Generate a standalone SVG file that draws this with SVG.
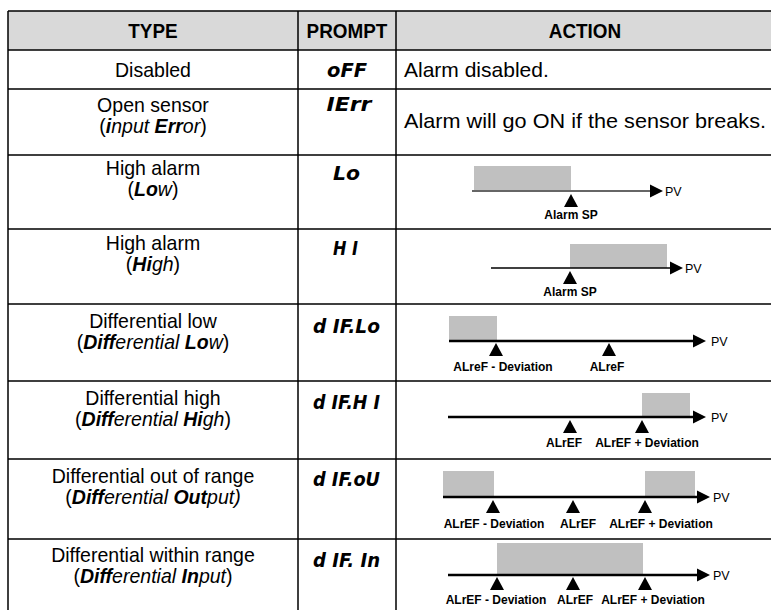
<svg xmlns="http://www.w3.org/2000/svg" width="771" height="610" viewBox="0 0 771 610">
<style>
.t{font-family:"Liberation Sans",Arial,sans-serif;font-size:21px;fill:#000;text-anchor:middle}
.h{font-family:"Liberation Sans",Arial,sans-serif;font-size:21px;font-weight:bold;fill:#000;text-anchor:middle}
.bi{font-weight:bold;font-style:italic}
.i{font-style:italic}
.p{font-family:"DejaVu Sans",sans-serif;font-size:19px;font-weight:bold;font-style:oblique;text-anchor:middle;fill:#000}
.a{font-family:"Liberation Sans",Arial,sans-serif;font-size:21px;fill:#000}
.lb{font-family:"Liberation Sans",Arial,sans-serif;font-size:12px;font-weight:bold;text-anchor:middle;fill:#000}
.pv{font-family:"Liberation Sans",Arial,sans-serif;font-size:12.5px;fill:#000}
.bar{fill:#c0c0c0}
.ax{stroke:#000;stroke-width:2.5;fill:none}
.grid{stroke:#000;stroke-width:1.5;fill:none}
</style>
<defs>
<path id="tri" d="M0,0 L7,13 L-7,13 Z" fill="#000"/>
<path id="head" d="M-13,-6.5 L0,0 L-13,6.5 Z" fill="#000"/>
</defs>
<rect x="8" y="11" width="763" height="39" fill="#d9d9d9"/>
<g id="grid" class="grid">
<path d="M8,11H771M8,50H771M8,89H771M8,155H771M8,229H771M8,304H771M8,381H771M8,459H771M8,539H771"/>
<path d="M8,11V610M298,11V610M396,11V610"/>
</g>
<g id="header">
<text class="h" x="153" y="38" transform="matrix(0.9 0 0 1 15.3 0)">TYPE</text>
<text class="h" x="347" y="38" transform="matrix(0.9 0 0 1 34.7 0)">PROMPT</text>
<text class="h" x="585" y="38" transform="matrix(0.9 0 0 1 58.5 0)">ACTION</text>
</g>
<g id="type-column" transform="matrix(0.93 0 0 1 10.71 0)">
<g id="row-disabled-type"><text class="t" x="153" y="77">Disabled</text></g>
<g id="row-open-type">
<text class="t" x="153" y="112">Open sensor</text>
<text class="t" x="153" y="133">(<tspan class="bi">i</tspan><tspan class="i">nput </tspan><tspan class="bi">Err</tspan><tspan class="i">or</tspan>)</text>
</g>
<g id="row-low-type">
<text class="t" x="153" y="175">High alarm</text>
<text class="t" x="153" y="196">(<tspan class="bi">Lo</tspan><tspan class="i">w</tspan>)</text>
</g>
<g id="row-high-type">
<text class="t" x="153" y="250">High alarm</text>
<text class="t" x="153" y="271">(<tspan class="bi">Hi</tspan><tspan class="i">gh</tspan>)</text>
</g>
<g id="row-diflo-type">
<text class="t" x="153" y="328">Differential low</text>
<text class="t" x="153" y="349">(<tspan class="bi">Diff</tspan><tspan class="i">erential </tspan><tspan class="bi">Lo</tspan><tspan class="i">w</tspan>)</text>
</g>
<g id="row-difhi-type">
<text class="t" x="153" y="405">Differential high</text>
<text class="t" x="153" y="426">(<tspan class="bi">Diff</tspan><tspan class="i">erential </tspan><tspan class="bi">Hi</tspan><tspan class="i">gh</tspan>)</text>
</g>
<g id="row-difou-type">
<text class="t" x="153" y="483">Differential out of range</text>
<text class="t" x="153" y="504">(<tspan class="bi">Diff</tspan><tspan class="i">erential </tspan><tspan class="bi">Out</tspan><tspan class="i">put)</tspan></text>
</g>
<g id="row-difin-type">
<text class="t" x="153" y="562">Differential within range</text>
<text class="t" x="153" y="583">(<tspan class="bi">Diff</tspan><tspan class="i">erential </tspan><tspan class="bi">In</tspan><tspan class="i">put</tspan>)</text>
</g>
</g>
<g id="row-disabled">
<text class="p" x="347" y="77" textLength="40" lengthAdjust="spacingAndGlyphs">oFF</text>
<text class="a" x="404" y="77">Alarm disabled.</text>
</g>
<g id="row-open">
<text class="p" x="349" y="111" textLength="45" lengthAdjust="spacingAndGlyphs">IErr</text>
<text class="a" x="404" y="128" textLength="362" lengthAdjust="spacingAndGlyphs">Alarm will go ON if the sensor breaks.</text>
</g>
<g id="row-low">
<text class="p" x="346.5" y="180" textLength="27" lengthAdjust="spacingAndGlyphs">Lo</text>
<rect class="bar" x="474" y="166" width="97" height="25"/>
<path d="M472,191H651" stroke="#666" stroke-width="2"/>
<use href="#head" x="663" y="191"/>
<text class="pv" x="665" y="196">PV</text>
<use href="#tri" x="571" y="194"/>
<text class="lb" x="571" y="219">Alarm SP</text>
</g>
<g id="row-high">
<text class="p" x="345.5" y="255" textLength="25" lengthAdjust="spacingAndGlyphs">H I</text>
<rect class="bar" x="570" y="244" width="97" height="24"/>
<path d="M491,268H672" stroke="#000" stroke-width="1.5"/>
<use href="#head" x="683" y="268"/>
<text class="pv" x="685" y="273">PV</text>
<use href="#tri" x="570" y="271"/>
<text class="lb" x="570" y="296">Alarm SP</text>
</g>
<g id="row-diflo">
<text class="p" x="346.5" y="333" textLength="67" lengthAdjust="spacingAndGlyphs">d IF.Lo</text>
<rect class="bar" x="449" y="316" width="48" height="25"/>
<path class="ax" d="M449,341H695"/>
<use href="#head" x="706" y="341"/>
<text class="pv" x="711" y="346">PV</text>
<use href="#tri" x="496" y="343"/>
<use href="#tri" x="609" y="343"/>
<text class="lb" x="503" y="371">ALreF - Deviation</text>
<text class="lb" x="607" y="371">ALreF</text>
</g>
<g id="row-difhi">
<text class="p" x="346.5" y="409" textLength="67" lengthAdjust="spacingAndGlyphs">d IF.H I</text>
<rect class="bar" x="642" y="393" width="48" height="24"/>
<path class="ax" d="M448,417H695"/>
<use href="#head" x="706" y="417"/>
<text class="pv" x="711" y="422">PV</text>
<use href="#tri" x="570" y="420"/>
<use href="#tri" x="642" y="420"/>
<text class="lb" x="564" y="447">ALrEF</text>
<text class="lb" x="647" y="447">ALrEF + Deviation</text>
</g>
<g id="row-difou">
<text class="p" x="346.5" y="486" textLength="67" lengthAdjust="spacingAndGlyphs">d IF.oU</text>
<rect class="bar" x="443" y="471" width="51" height="26"/>
<rect class="bar" x="645" y="471" width="50" height="26"/>
<path class="ax" d="M443,497H699"/>
<use href="#head" x="710" y="497"/>
<text class="pv" x="713" y="502">PV</text>
<use href="#tri" x="493" y="500"/>
<use href="#tri" x="573" y="500"/>
<use href="#tri" x="645" y="500"/>
<text class="lb" x="494" y="528">ALrEF - Deviation</text>
<text class="lb" x="578" y="528">ALrEF</text>
<text class="lb" x="661" y="528">ALrEF + Deviation</text>
</g>
<g id="row-difin">
<text class="p" x="346.5" y="567" textLength="67" lengthAdjust="spacingAndGlyphs">d IF. In</text>
<rect class="bar" x="497" y="543" width="146" height="32"/>
<path class="ax" d="M448,575H699"/>
<use href="#head" x="710" y="575"/>
<text class="pv" x="713" y="580">PV</text>
<use href="#tri" x="497" y="577"/>
<use href="#tri" x="573" y="577"/>
<use href="#tri" x="645" y="577"/>
<text class="lb" x="496" y="604">ALrEF - Deviation</text>
<text class="lb" x="575" y="604">ALrEF</text>
<text class="lb" x="653" y="604">ALrEF + Deviation</text>
</g>
</svg>
